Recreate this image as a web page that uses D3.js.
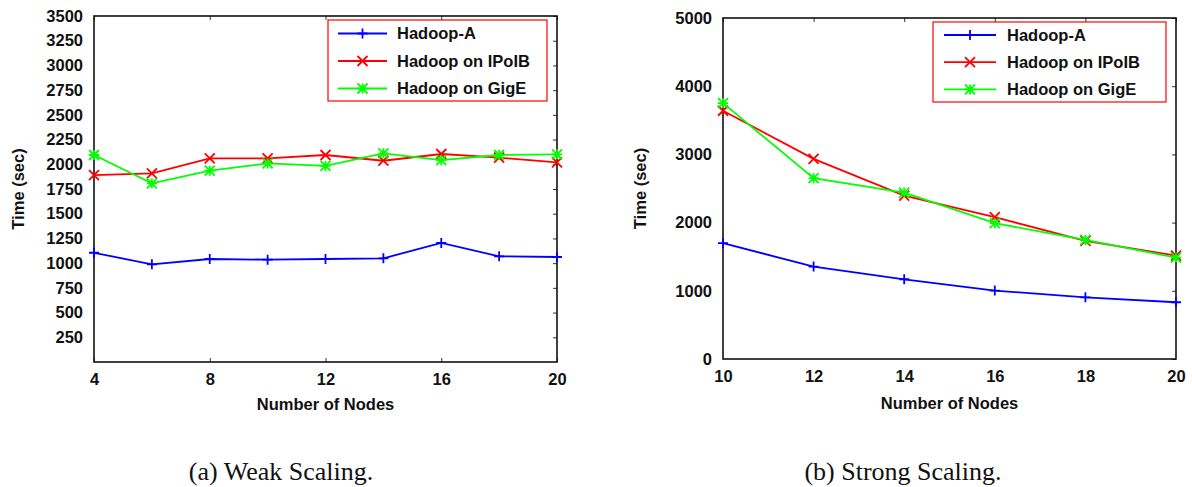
<!DOCTYPE html>
<html>
<head>
<meta charset="utf-8">
<script src="https://cdn.jsdelivr.net/npm/d3@7"></script>
<style>
  body { margin: 0; background: #fff; }
  text { font-family: "Liberation Sans", Arial, sans-serif; font-weight: bold; fill: #111; }
  .caption { font-family: "Liberation Serif", "Times New Roman", serif; font-weight: normal; font-size: 26px; }
</style>
</head>
<body>
<div id="chart"></div>
<script>
// Series names shared by both panels
const seriesNames = ["Hadoop-A", "Hadoop on IPoIB", "Hadoop on GigE"];
const seriesColors = ["#0000ff", "#ff0000", "#00ff00"];
const seriesMarkers = ["plus", "cross", "star"];

// (a) Weak scaling
const weakNodes = [4, 6, 8, 10, 12, 14, 16, 18, 20];
const weakHadoopA = [1105, 988, 1042, 1035, 1042, 1049, 1204, 1069, 1062];
const weakIPoIB = [1891, 1909, 2060, 2060, 2094, 2036, 2104, 2067, 2020];
const weakGigE = [2094, 1808, 1935, 2009, 1983, 2111, 2043, 2094, 2101];
const weakXTicks = [4, 8, 12, 16, 20];
const weakYTicks = [250, 500, 750, 1000, 1250, 1500, 1750, 2000, 2250, 2500, 2750, 3000, 3250, 3500];

// (b) Strong scaling
const strongNodes = [10, 12, 14, 16, 18, 20];
const strongHadoopA = [1698, 1355, 1169, 1003, 905, 832];
const strongIPoIB = [3640, 2935, 2397, 2079, 1732, 1516];
const strongGigE = [3752, 2652, 2441, 1991, 1746, 1487];
const strongXTicks = [10, 12, 14, 16, 18, 20];
const strongYTicks = [0, 1000, 2000, 3000, 4000, 5000];

const svg = d3.select("#chart")
    .append("svg")
    .attr("width", 1192)
    .attr("height", 487);

// marker path for a given type and half size
function markerPath(type, s) {
    const plus = `M${-s},0H${s}M0,${-s}V${s}`;
    const cross = `M${-s},${-s}L${s},${s}M${-s},${s}L${s},${-s}`;
    if (type === "plus") return plus;
    if (type === "cross") return cross;
    return plus + cross;
}

function drawPanel(cfg) {
    const width = cfg.right - cfg.left,
        height = cfg.bottom - cfg.top;

    const g = svg.append("g")
        .attr("transform", `translate(${cfg.left},${cfg.top})`);

    const x = d3.scaleLinear().domain(cfg.xDomain).range([0, width]);
    const y = d3.scaleLinear().domain(cfg.yDomain).range([height, 0]);

    // tick labels (left and bottom)
    const yAxis = g.append("g")
        .call(d3.axisLeft(y).tickValues(cfg.yTicks).tickFormat(d3.format("d")).tickSize(0).tickPadding(11));
    yAxis.select(".domain").remove();
    yAxis.selectAll("text").style("font-size", "16.5px");

    const xAxis = g.append("g")
        .attr("transform", `translate(0,${height})`)
        .call(d3.axisBottom(x).tickValues(cfg.xTicks).tickFormat(d3.format("d")).tickSize(0).tickPadding(11));
    xAxis.select(".domain").remove();
    xAxis.selectAll("text").style("font-size", "16.5px");

    // inward tick marks on mirrored sides
    const tickLen = 4;
    cfg.tickSides.forEach(side => {
        let axis, t = "";
        if (side === "top") axis = d3.axisBottom(x).tickValues(cfg.xTicks);
        if (side === "bottom") { axis = d3.axisTop(x).tickValues(cfg.xTicks); t = `translate(0,${height})`; }
        if (side === "right") { axis = d3.axisLeft(y).tickValues(cfg.yTicks); t = `translate(${width},0)`; }
        const a = g.append("g").attr("transform", t)
            .call(axis.tickSize(tickLen).tickFormat(""));
        a.select(".domain").remove();
        a.selectAll("line").attr("stroke", "#333").attr("stroke-width", 1);
    });

    // frame
    g.append("rect")
        .attr("width", width)
        .attr("height", height)
        .attr("fill", "none")
        .attr("stroke", "#111")
        .attr("stroke-width", 1.6);

    // axis titles
    g.append("text")
        .attr("x", width / 2)
        .attr("y", cfg.xTitleY - cfg.top)
        .style("text-anchor", "middle")
        .style("font-size", "16.5px")
        .text("Number of Nodes");

    g.append("text")
        .attr("transform", "rotate(-90)")
        .attr("x", -height / 2)
        .attr("y", cfg.yTitleX - cfg.left)
        .attr("dy", "0.35em")
        .style("text-anchor", "middle")
        .style("font-size", "16.5px")
        .text("Time (sec)");

    // lines and markers
    const line = d3.line()
        .x(d => x(d[0]))
        .y(d => y(d[1]));

    cfg.series.forEach((vals, i) => {
        const pts = cfg.nodes.map((n, j) => [n, vals[j]]);
        g.append("path")
            .datum(pts)
            .attr("d", line)
            .attr("fill", "none")
            .attr("stroke", seriesColors[i])
            .attr("stroke-width", 1.8);

        g.selectAll(null)
            .data(pts)
            .enter()
            .append("path")
            .attr("transform", d => `translate(${x(d[0])},${y(d[1])})`)
            .attr("d", markerPath(seriesMarkers[i], 5))
            .attr("fill", "none")
            .attr("stroke", seriesColors[i])
            .attr("stroke-width", 1.8);
    });

    // legend
    const lg = svg.append("g")
        .attr("transform", `translate(${cfg.legend.x},${cfg.legend.y})`);

    lg.append("rect")
        .attr("width", cfg.legend.w)
        .attr("height", cfg.legend.h)
        .attr("fill", "#fff")
        .attr("stroke", "#ff0000")
        .attr("stroke-width", 1.2);

    seriesNames.forEach((name, i) => {
        const ry = cfg.legend.row0 + i * cfg.legend.rowStep;
        lg.append("line")
            .attr("x1", cfg.legend.lineX1).attr("x2", cfg.legend.lineX2)
            .attr("y1", ry).attr("y2", ry)
            .attr("stroke", seriesColors[i])
            .attr("stroke-width", 1.8);
        lg.append("path")
            .attr("transform", `translate(${(cfg.legend.lineX1 + cfg.legend.lineX2) / 2},${ry})`)
            .attr("d", markerPath(seriesMarkers[i], 5))
            .attr("fill", "none")
            .attr("stroke", seriesColors[i])
            .attr("stroke-width", 1.8);
        lg.append("text")
            .attr("x", cfg.legend.textX)
            .attr("y", ry)
            .attr("dy", "0.35em")
            .style("font-size", "16.5px")
            .text(name);
    });

    // caption
    svg.append("text")
        .attr("class", "caption")
        .attr("x", cfg.captionX)
        .attr("y", 480)
        .style("text-anchor", "middle")
        .text(cfg.caption);
}

drawPanel({
    left: 94, right: 557, top: 16, bottom: 362,
    xDomain: [4, 20], yDomain: [0, 3500],
    xTicks: weakXTicks, yTicks: weakYTicks,
    tickSides: ["top", "bottom", "right"],
    nodes: weakNodes,
    series: [weakHadoopA, weakIPoIB, weakGigE],
    xTitleY: 410, yTitleX: 18,
    legend: { x: 328, y: 20, w: 219, h: 81, row0: 13.5, rowStep: 27.5, lineX1: 10, lineX2: 59, textX: 69 },
    caption: "(a) Weak Scaling.", captionX: 281
});

drawPanel({
    left: 723, right: 1176, top: 18, bottom: 359,
    xDomain: [10, 20], yDomain: [0, 5000],
    xTicks: strongXTicks, yTicks: strongYTicks,
    tickSides: ["top", "right"],
    nodes: strongNodes,
    series: [strongHadoopA, strongIPoIB, strongGigE],
    xTitleY: 409, yTitleX: 640,
    legend: { x: 933, y: 22, w: 233, h: 80, row0: 13, rowStep: 27.2, lineX1: 11, lineX2: 63, textX: 74 },
    caption: "(b) Strong Scaling.", captionX: 903
});
</script>
</body>
</html>
